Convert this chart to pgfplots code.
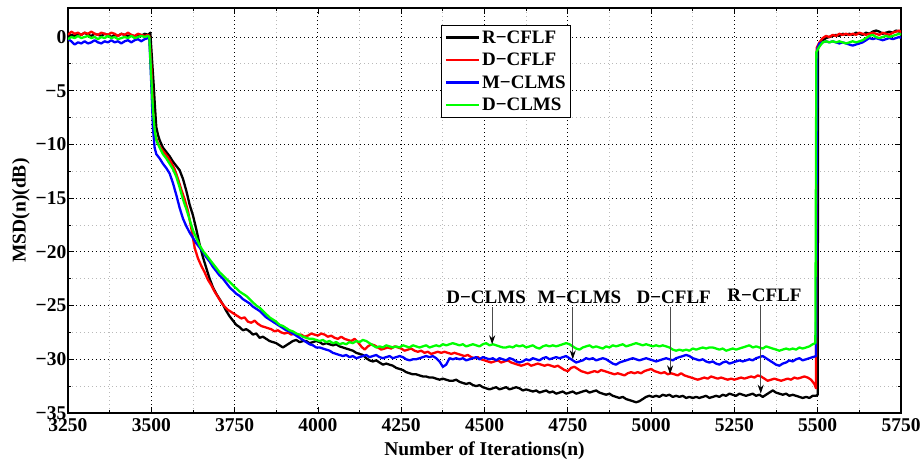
\documentclass[border=0pt]{standalone}
\usepackage{fontspec}
\setmainfont{Liberation Serif}
\usepackage{pgfplots}
\pgfplotsset{compat=1.18}
\usetikzlibrary{arrows.meta}

\newcommand{\lbl}{\bfseries\fontsize{19.5}{22}\selectfont}
\newcommand{\ann}{\bfseries\fontsize{19}{21}\selectfont}
\definecolor{cR}{rgb}{1,0,0}
\definecolor{cB}{rgb}{0,0,1}
\definecolor{cG}{rgb}{0,1,0}

\begin{document}
\begin{tikzpicture}
\begin{axis}[
  scale only axis,
  width=833pt, height=405pt,
  xmin=3250, xmax=5750, ymin=-35, ymax=2.7,
  xtick={3250,3500,3750,4000,4250,4500,4750,5000,5250,5500,5750},
  xticklabels={3250,3500,3750,4000,4250,4500,4750,5000,5250,5500,5750},
  ytick={-35,-30,-25,-20,-15,-10,-5,0},
  yticklabels={−35,−30,−25,−20,−15,−10,−5,0},
  minor x tick num=1, minor y tick num=1,
  grid=both,
  major grid style={black, line width=0.9pt, dash pattern=on 1pt off 3pt},
  minor grid style={gray!55, line width=0.8pt, dash pattern=on 1pt off 3pt},
  tick align=inside,
  major tick length=6pt, minor tick length=3pt,
  every tick/.style={black, line width=0.8pt},
  axis line style={line width=1.1pt},
  tick label style={font=\lbl},
  xticklabel style={inner sep=1pt, yshift=-4pt},
  yticklabel style={inner sep=1.5pt},
  label style={font=\lbl},
  xlabel={Number of Iterations(n)},
  ylabel={MSD(n)(dB)},
  xlabel style={at={(axis description cs:0.5,-0.092)}, anchor=center},
  ylabel style={at={(axis description cs:-0.0565,0.5)}, anchor=center},
  legend style={at={(0.448,0.958)}, anchor=north west, font=\ann,
    draw=black, line width=0.9pt, inner sep=3pt, row sep=4.5pt,
    cells={anchor=west}},
  legend image code/.code={\draw[#1, line width=2.4pt] (0pt,0pt) -- (33pt,0pt);},
  every axis plot/.append style={line width=2.3pt, line join=round},
]

% R-CFLF
\addplot[black] coordinates {
(3250,0.0)(3260,0.2)(3270,0.1)(3280,0.3)(3290,0.2)(3300,0.4)(3310,0.2)(3320,0.1)(3330,0.3)(3340,0.2)
(3350,0.1)(3360,0.3)(3370,0.2)(3380,0.0)(3390,0.2)(3400,0.1)(3410,0.3)(3420,0.2)(3430,0.1)(3440,0.2)
(3450,0.0)(3460,0.2)(3470,0.1)(3480,0.3)(3490,0.2)(3497,0.4)(3502,-2.0)(3507,-4.4)(3511,-6.5)(3515,-8.4)
(3520,-9.1)(3525,-9.6)(3535,-10.3)(3545,-10.7)(3555,-11.1)(3565,-11.6)(3575,-12.0)(3585,-12.4)(3595,-13.2)(3605,-14.3)
(3615,-15.6)(3625,-16.6)(3635,-17.9)(3645,-19.3)(3655,-20.5)(3665,-21.5)(3675,-22.5)(3685,-23.3)(3695,-23.9)(3705,-24.4)
(3715,-24.9)(3725,-25.5)(3735,-26.0)(3745,-26.4)(3755,-26.8)(3765,-27.0)(3775,-27.3)(3785,-27.2)(3795,-27.4)(3805,-27.7)
(3815,-27.6)(3825,-28.0)(3835,-27.9)(3845,-28.1)(3855,-28.3)(3865,-28.4)(3875,-28.5)(3885,-28.7)(3895,-28.9)(3905,-28.7)
(3915,-28.5)(3925,-28.3)(3935,-28.2)(3945,-28.4)(3955,-28.3)(3965,-28.3)(3975,-28.5)(3985,-28.4)(3995,-28.3)(4005,-28.4)
(4015,-28.6)(4025,-28.5)(4035,-28.6)(4045,-28.7)(4055,-28.6)(4065,-28.8)(4075,-28.9)(4085,-29.0)(4095,-29.1)(4105,-29.2)
(4115,-29.4)(4125,-29.5)(4135,-29.6)(4145,-29.9)(4155,-30.1)(4165,-30.2)(4175,-30.1)(4185,-30.3)(4195,-30.5)(4205,-30.4)
(4215,-30.5)(4225,-30.6)(4235,-30.8)(4245,-30.9)(4255,-31.0)(4265,-31.2)(4275,-31.3)(4285,-31.4)(4295,-31.4)(4305,-31.5)
(4315,-31.6)(4325,-31.6)(4335,-31.7)(4345,-31.7)(4355,-31.8)(4365,-31.9)(4375,-31.8)(4385,-31.9)(4395,-32.0)(4405,-32.0)
(4415,-31.9)(4425,-32.1)(4435,-32.2)(4445,-32.3)(4455,-32.2)(4465,-32.4)(4475,-32.5)(4485,-32.4)(4495,-32.6)(4505,-32.7)
(4515,-32.8)(4525,-32.7)(4535,-32.6)(4545,-32.8)(4555,-32.7)(4565,-32.6)(4575,-32.8)(4585,-32.7)(4595,-32.6)(4605,-32.7)
(4615,-32.9)(4625,-32.8)(4635,-32.9)(4645,-33.0)(4655,-32.9)(4665,-33.1)(4675,-33.0)(4685,-32.9)(4695,-33.1)(4705,-33.0)
(4715,-33.2)(4725,-33.1)(4735,-33.0)(4745,-33.2)(4755,-33.1)(4765,-33.0)(4775,-33.2)(4785,-33.1)(4795,-33.0)(4805,-32.9)
(4815,-33.1)(4825,-33.0)(4835,-32.9)(4845,-33.1)(4855,-33.2)(4865,-33.3)(4875,-33.2)(4885,-33.4)(4895,-33.5)(4905,-33.6)
(4915,-33.5)(4925,-33.7)(4935,-33.8)(4945,-33.9)(4955,-34.0)(4965,-33.9)(4975,-33.7)(4985,-33.5)(4995,-33.4)(5005,-33.5)
(5015,-33.4)(5025,-33.5)(5035,-33.3)(5045,-33.4)(5055,-33.3)(5065,-33.5)(5075,-33.4)(5085,-33.5)(5095,-33.4)(5105,-33.6)
(5115,-33.5)(5125,-33.6)(5135,-33.5)(5145,-33.6)(5155,-33.5)(5165,-33.4)(5175,-33.6)(5185,-33.5)(5195,-33.4)(5205,-33.5)
(5215,-33.3)(5225,-33.4)(5235,-33.2)(5245,-33.3)(5255,-33.4)(5265,-33.2)(5275,-33.3)(5285,-33.4)(5295,-33.3)(5305,-33.2)
(5315,-33.4)(5325,-33.3)(5335,-33.5)(5345,-33.3)(5355,-33.1)(5365,-32.9)(5375,-33.1)(5385,-33.2)(5395,-33.3)(5405,-33.2)
(5415,-33.4)(5425,-33.3)(5435,-33.4)(5445,-33.5)(5455,-33.6)(5465,-33.5)(5475,-33.6)(5485,-33.4)(5495,-33.4)(5500,-33.3)
(5501,-0.9)(5505,-0.6)(5515,-0.3)(5525,-0.1)(5535,0.0)(5545,0.1)(5555,0.2)(5565,0.1)(5575,0.3)(5585,0.2)
(5595,0.3)(5605,0.2)(5615,0.4)(5625,0.3)(5635,0.2)(5645,0.4)(5655,0.3)(5665,0.5)(5675,0.6)(5685,0.5)
(5695,0.3)(5705,0.4)(5715,0.5)(5725,0.4)(5735,0.6)(5745,0.5)(5750,0.4)
};
\addlegendentry{R−CFLF}

% D-CFLF
\addplot[cR] coordinates {
(3250,0.2)(3260,0.5)(3270,0.3)(3280,0.4)(3290,0.2)(3300,0.4)(3310,0.3)(3320,0.5)(3330,0.3)(3340,0.2)
(3350,0.4)(3360,0.3)(3370,0.2)(3380,0.4)(3390,0.3)(3400,0.1)(3410,0.3)(3420,0.2)(3430,0.4)(3440,0.2)
(3450,0.1)(3460,0.3)(3470,0.2)(3480,0.1)(3490,0.2)(3494,0.1)(3500,-2.8)(3505,-6.9)(3510,-9.0)(3520,-9.9)
(3530,-10.4)(3540,-10.8)(3550,-11.2)(3560,-11.7)(3570,-12.3)(3580,-13.2)(3590,-14.2)(3600,-15.1)(3610,-16.2)(3620,-17.8)
(3630,-19.6)(3640,-20.6)(3650,-21.3)(3660,-21.9)(3670,-22.6)(3680,-23.1)(3690,-23.7)(3700,-24.2)(3710,-24.7)(3720,-25.1)
(3730,-25.4)(3740,-25.6)(3750,-25.8)(3760,-26.0)(3770,-26.2)(3780,-26.1)(3790,-26.5)(3800,-26.6)(3810,-26.4)(3820,-26.7)
(3830,-26.9)(3840,-27.0)(3850,-27.1)(3860,-27.2)(3870,-27.4)(3880,-27.3)(3890,-27.5)(3900,-27.6)(3910,-27.5)(3920,-27.7)
(3930,-27.6)(3940,-27.8)(3950,-27.7)(3960,-27.9)(3970,-27.8)(3980,-27.6)(3990,-27.7)(4000,-27.8)(4010,-27.6)(4020,-27.7)
(4030,-27.9)(4040,-27.8)(4050,-28.0)(4060,-28.1)(4070,-27.9)(4080,-28.1)(4090,-28.2)(4100,-28.3)(4110,-28.1)(4120,-28.4)
(4130,-28.8)(4140,-29.1)(4150,-28.8)(4160,-28.6)(4170,-28.7)(4180,-28.9)(4190,-29.1)(4200,-29.0)(4210,-28.9)(4220,-29.0)
(4230,-28.8)(4240,-28.9)(4250,-29.0)(4260,-29.2)(4270,-29.1)(4280,-29.0)(4290,-29.2)(4300,-29.3)(4310,-29.2)(4320,-29.4)
(4330,-29.3)(4340,-29.5)(4350,-29.4)(4360,-29.3)(4370,-29.4)(4380,-29.3)(4390,-29.4)(4400,-29.5)(4410,-29.4)(4420,-29.5)
(4430,-29.6)(4440,-29.7)(4450,-29.6)(4460,-29.8)(4470,-29.9)(4480,-29.8)(4490,-30.0)(4500,-30.1)(4510,-30.2)(4520,-30.3)
(4530,-30.2)(4540,-30.1)(4550,-30.3)(4560,-30.2)(4570,-30.1)(4580,-30.3)(4590,-30.4)(4600,-30.5)(4610,-30.6)(4620,-30.5)
(4630,-30.4)(4640,-30.6)(4650,-30.5)(4660,-30.4)(4670,-30.5)(4680,-30.6)(4690,-30.5)(4700,-30.6)(4710,-30.7)(4720,-30.6)
(4730,-30.8)(4740,-31.0)(4750,-31.1)(4760,-30.8)(4770,-30.7)(4780,-30.9)(4790,-31.1)(4800,-31.2)(4810,-31.3)(4820,-31.2)
(4830,-31.1)(4840,-31.2)(4850,-31.0)(4860,-31.1)(4870,-31.2)(4880,-31.3)(4890,-31.4)(4900,-31.3)(4910,-31.4)(4920,-31.5)
(4930,-31.3)(4940,-31.2)(4950,-31.3)(4960,-31.2)(4970,-31.3)(4980,-31.1)(4990,-31.0)(5000,-30.9)(5010,-31.1)(5020,-31.2)
(5030,-31.3)(5040,-31.2)(5050,-31.4)(5060,-31.3)(5070,-31.4)(5080,-31.5)(5090,-31.3)(5100,-31.5)(5110,-31.6)(5120,-31.7)
(5130,-31.8)(5140,-31.9)(5150,-31.8)(5160,-31.7)(5170,-31.8)(5180,-31.6)(5190,-31.7)(5200,-31.8)(5210,-31.7)(5220,-31.8)
(5230,-31.9)(5240,-31.8)(5250,-31.9)(5260,-31.8)(5270,-31.7)(5280,-31.8)(5290,-31.7)(5300,-31.6)(5310,-31.7)(5320,-31.5)
(5330,-31.6)(5340,-31.8)(5350,-32.0)(5360,-31.9)(5370,-31.8)(5380,-31.9)(5390,-32.0)(5400,-31.9)(5410,-31.8)(5420,-31.9)
(5430,-31.7)(5440,-31.8)(5450,-31.7)(5460,-31.6)(5470,-31.7)(5480,-31.9)(5490,-32.3)(5495,-32.7)(5497,-1.0)(5505,-0.5)
(5515,-0.1)(5525,0.1)(5535,0.0)(5545,0.2)(5555,0.1)(5565,0.3)(5575,0.2)(5585,0.3)(5595,0.2)(5605,0.3)
(5615,0.2)(5625,0.4)(5635,0.3)(5645,0.2)(5655,0.3)(5665,0.4)(5675,0.3)(5685,0.2)(5695,0.4)(5705,0.3)
(5715,0.2)(5725,0.4)(5735,0.5)(5745,0.6)(5750,0.4)
};
\addlegendentry{D−CFLF}

% M-CLMS
\addplot[cB] coordinates {
(3250,-0.2)(3260,-0.4)(3270,-0.7)(3280,-0.5)(3290,-0.6)(3300,-0.4)(3310,-0.6)(3320,-0.5)(3330,-0.3)(3340,-0.5)
(3350,-0.6)(3360,-0.4)(3370,-0.5)(3380,-0.3)(3390,-0.5)(3400,-0.4)(3410,-0.6)(3420,-0.4)(3430,-0.3)(3440,-0.5)
(3450,-0.3)(3460,-0.2)(3470,-0.4)(3480,-0.2)(3490,-0.1)(3494,-0.1)(3500,-4.4)(3505,-8.5)(3510,-10.3)(3515,-10.9)
(3525,-11.3)(3535,-11.8)(3545,-12.2)(3555,-12.7)(3565,-13.6)(3575,-14.7)(3585,-15.9)(3595,-16.9)(3605,-17.6)(3615,-18.2)
(3625,-18.7)(3635,-19.2)(3645,-19.6)(3655,-20.0)(3665,-20.5)(3675,-20.9)(3685,-21.4)(3695,-21.8)(3705,-22.2)(3715,-22.5)
(3725,-22.9)(3735,-23.3)(3745,-23.6)(3755,-23.9)(3765,-24.1)(3775,-24.4)(3785,-24.6)(3795,-24.8)(3805,-25.1)(3815,-25.3)
(3825,-25.5)(3835,-25.8)(3845,-26.1)(3855,-26.3)(3865,-26.5)(3875,-26.7)(3885,-26.9)(3895,-27.1)(3905,-27.3)(3915,-27.4)
(3925,-27.6)(3935,-27.8)(3945,-28.0)(3955,-28.2)(3965,-28.4)(3975,-28.6)(3985,-28.7)(3995,-28.9)(4005,-28.9)(4015,-29.0)
(4025,-29.1)(4035,-29.2)(4045,-29.4)(4055,-29.5)(4065,-29.6)(4075,-29.7)(4085,-29.6)(4095,-29.8)(4105,-29.7)(4115,-29.9)
(4125,-29.8)(4135,-29.7)(4145,-29.6)(4155,-29.8)(4165,-29.7)(4175,-29.6)(4185,-29.8)(4195,-29.9)(4205,-29.8)(4215,-29.7)
(4225,-29.9)(4235,-29.8)(4245,-29.7)(4255,-29.8)(4265,-30.0)(4275,-30.1)(4285,-30.0)(4295,-30.0)(4305,-29.9)(4315,-29.8)
(4325,-29.7)(4335,-29.8)(4345,-29.7)(4355,-29.9)(4365,-30.2)(4375,-30.7)(4385,-30.5)(4395,-29.9)(4405,-30.0)(4415,-29.9)
(4425,-30.0)(4435,-29.9)(4445,-30.1)(4455,-30.0)(4465,-29.9)(4475,-29.8)(4485,-30.0)(4495,-29.8)(4505,-29.9)(4515,-30.0)
(4525,-29.9)(4535,-30.1)(4545,-29.9)(4555,-30.0)(4565,-30.1)(4575,-29.9)(4585,-30.0)(4595,-30.2)(4605,-30.3)(4615,-30.2)
(4625,-30.0)(4635,-30.1)(4645,-29.9)(4655,-30.0)(4665,-30.1)(4675,-29.9)(4685,-29.8)(4695,-30.0)(4705,-29.9)(4715,-29.8)
(4725,-29.9)(4735,-29.8)(4745,-29.7)(4755,-29.9)(4765,-30.1)(4775,-30.3)(4785,-30.2)(4795,-30.1)(4805,-29.9)(4815,-30.0)
(4825,-29.9)(4835,-30.1)(4845,-30.0)(4855,-29.9)(4865,-30.0)(4875,-30.2)(4885,-30.4)(4895,-30.5)(4905,-30.3)(4915,-30.2)
(4925,-30.1)(4935,-30.0)(4945,-29.9)(4955,-30.0)(4965,-30.1)(4975,-30.0)(4985,-29.9)(4995,-30.0)(5005,-30.1)(5015,-30.2)
(5025,-30.1)(5035,-30.0)(5045,-29.9)(5055,-30.0)(5065,-30.1)(5075,-29.9)(5085,-29.8)(5095,-29.7)(5105,-29.6)(5115,-29.7)
(5125,-29.9)(5135,-30.0)(5145,-30.1)(5155,-30.0)(5165,-30.2)(5175,-30.3)(5185,-30.2)(5195,-30.4)(5205,-30.5)(5215,-30.3)
(5225,-30.2)(5235,-30.4)(5245,-30.3)(5255,-30.2)(5265,-30.1)(5275,-30.2)(5285,-30.1)(5295,-30.0)(5305,-30.1)(5315,-29.9)
(5325,-29.8)(5335,-29.7)(5345,-29.9)(5355,-30.1)(5365,-30.3)(5375,-30.5)(5385,-30.6)(5395,-30.4)(5405,-30.3)(5415,-30.1)
(5425,-30.2)(5435,-30.0)(5445,-29.9)(5455,-30.1)(5465,-30.0)(5475,-29.9)(5485,-29.8)(5495,-29.7)(5498,-1.2)(5505,-0.6)
(5515,-0.5)(5525,-0.4)(5535,-0.5)(5545,-0.4)(5555,-0.5)(5565,-0.6)(5575,-0.5)(5585,-0.6)(5595,-0.7)(5605,-0.8)
(5615,-0.7)(5625,-0.6)(5635,-0.5)(5645,-0.3)(5655,-0.1)(5665,-0.2)(5675,-0.1)(5685,-0.2)(5695,-0.3)(5705,-0.2)
(5715,-0.1)(5725,-0.2)(5735,-0.1)(5745,0.0)(5750,-0.1)
};
\addlegendentry{M−CLMS}

% D-CLMS
\addplot[cG] coordinates {
(3250,-0.2)(3260,0.0)(3270,-0.1)(3280,0.1)(3290,-0.1)(3300,0.0)(3310,0.1)(3320,-0.1)(3330,0.0)(3340,-0.2)
(3350,0.0)(3360,-0.1)(3370,0.1)(3380,-0.1)(3390,0.0)(3400,-0.2)(3410,-0.1)(3420,0.0)(3430,-0.1)(3440,0.1)
(3450,-0.1)(3460,0.0)(3470,0.1)(3480,0.0)(3490,0.1)(3494,0.0)(3500,-3.8)(3505,-6.8)(3510,-8.6)(3515,-9.6)
(3525,-10.3)(3535,-10.9)(3545,-11.3)(3555,-11.8)(3565,-12.3)(3575,-13.0)(3585,-14.0)(3595,-15.1)(3605,-16.0)(3615,-17.0)
(3625,-18.0)(3635,-18.7)(3645,-19.4)(3655,-19.9)(3665,-20.3)(3675,-20.7)(3685,-21.1)(3695,-21.5)(3705,-21.9)(3715,-22.2)
(3725,-22.5)(3735,-22.8)(3745,-23.1)(3755,-23.4)(3765,-23.7)(3775,-23.9)(3785,-24.1)(3795,-24.4)(3805,-24.7)(3815,-25.0)
(3825,-25.2)(3835,-25.5)(3845,-25.8)(3855,-26.1)(3865,-26.3)(3875,-26.5)(3885,-26.8)(3895,-26.9)(3905,-27.1)(3915,-27.3)
(3925,-27.4)(3935,-27.6)(3945,-27.7)(3955,-27.9)(3965,-28.0)(3975,-28.1)(3985,-28.1)(3995,-28.2)(4005,-28.3)(4015,-28.2)
(4025,-28.4)(4035,-28.3)(4045,-28.5)(4055,-28.4)(4065,-28.6)(4075,-28.5)(4085,-28.6)(4095,-28.4)(4105,-28.5)(4115,-28.3)
(4125,-28.4)(4135,-28.2)(4145,-28.3)(4155,-28.5)(4165,-28.7)(4175,-28.9)(4185,-28.8)(4195,-28.9)(4205,-28.7)(4215,-28.8)
(4225,-28.9)(4235,-28.8)(4245,-28.9)(4255,-28.7)(4265,-28.8)(4275,-28.9)(4285,-28.7)(4295,-28.8)(4305,-28.9)(4315,-28.8)
(4325,-28.7)(4335,-28.9)(4345,-28.8)(4355,-28.7)(4365,-28.8)(4375,-28.6)(4385,-28.7)(4395,-28.6)(4405,-28.5)(4415,-28.6)
(4425,-28.7)(4435,-28.6)(4445,-28.8)(4455,-28.7)(4465,-28.6)(4475,-28.7)(4485,-28.8)(4495,-28.6)(4505,-28.5)(4515,-28.7)
(4525,-28.6)(4535,-28.7)(4545,-28.8)(4555,-28.9)(4565,-28.9)(4575,-28.8)(4585,-28.9)(4595,-28.7)(4605,-28.8)(4615,-28.7)
(4625,-28.9)(4635,-28.8)(4645,-28.7)(4655,-28.9)(4665,-29.0)(4675,-28.8)(4685,-28.7)(4695,-28.8)(4705,-28.7)(4715,-28.8)
(4725,-28.7)(4735,-28.6)(4745,-28.5)(4755,-28.6)(4765,-28.8)(4775,-29.0)(4785,-29.1)(4795,-28.9)(4805,-28.8)(4815,-28.7)
(4825,-28.9)(4835,-28.8)(4845,-28.9)(4855,-29.0)(4865,-28.8)(4875,-28.9)(4885,-28.7)(4895,-28.8)(4905,-28.7)(4915,-28.6)
(4925,-28.8)(4935,-28.7)(4945,-28.6)(4955,-28.5)(4965,-28.6)(4975,-28.7)(4985,-28.6)(4995,-28.7)(5005,-28.8)(5015,-28.7)
(5025,-28.8)(5035,-28.7)(5045,-28.8)(5055,-28.9)(5065,-29.1)(5075,-29.2)(5085,-29.1)(5095,-29.2)(5105,-29.1)(5115,-29.2)
(5125,-29.0)(5135,-29.1)(5145,-29.0)(5155,-28.9)(5165,-29.0)(5175,-28.9)(5185,-28.9)(5195,-29.0)(5205,-29.1)(5215,-29.0)
(5225,-29.2)(5235,-29.1)(5245,-29.0)(5255,-29.1)(5265,-29.0)(5275,-28.9)(5285,-28.8)(5295,-28.7)(5305,-28.9)(5315,-28.8)
(5325,-28.9)(5335,-29.0)(5345,-28.8)(5355,-28.9)(5365,-29.0)(5375,-29.1)(5385,-29.2)(5395,-29.1)(5405,-29.0)(5415,-29.1)
(5425,-29.0)(5435,-29.1)(5445,-28.9)(5455,-29.0)(5465,-28.9)(5475,-28.8)(5485,-28.6)(5493,-28.5)(5496,-1.4)(5505,-0.9)
(5515,-0.5)(5525,-0.4)(5535,-0.5)(5545,-0.4)(5555,-0.5)(5565,-0.4)(5575,-0.5)(5585,-0.6)(5595,-0.5)(5605,-0.4)
(5615,-0.5)(5625,-0.4)(5635,-0.3)(5645,-0.1)(5655,0.1)(5665,0.2)(5675,0.0)(5685,-0.1)(5695,0.0)(5705,0.1)
(5715,0.0)(5725,0.1)(5735,0.2)(5745,0.3)(5750,0.2)
};
\addlegendentry{D−CLMS}

% labels with arrows pointing at each steady-state curve
\node[font=\ann] at (axis cs:4505,-24.2) {D−CLMS};
\node[font=\ann] at (axis cs:4785,-24.2) {M−CLMS};
\node[font=\ann] at (axis cs:5068,-24.2) {D−CFLF};
\node[font=\ann] at (axis cs:5340,-24.0) {R−CFLF};
\draw[black!70, line width=0.8pt, -{Stealth[length=9pt,width=6pt,black]}] (axis cs:4523,-25.1) -- (axis cs:4523,-28.6);
\draw[black!70, line width=0.8pt, -{Stealth[length=9pt,width=6pt,black]}] (axis cs:4765,-25.1) -- (axis cs:4765,-30.0);
\draw[black!70, line width=0.8pt, -{Stealth[length=9pt,width=6pt,black]}] (axis cs:5057,-25.1) -- (axis cs:5057,-31.4);
\draw[black!70, line width=0.8pt, -{Stealth[length=9pt,width=6pt,black]}] (axis cs:5329,-25.0) -- (axis cs:5329,-33.2);
\end{axis}
\pgfresetboundingbox
\path (-68pt,-47pt) rectangle (853pt,413pt);
\end{tikzpicture}
\end{document}
